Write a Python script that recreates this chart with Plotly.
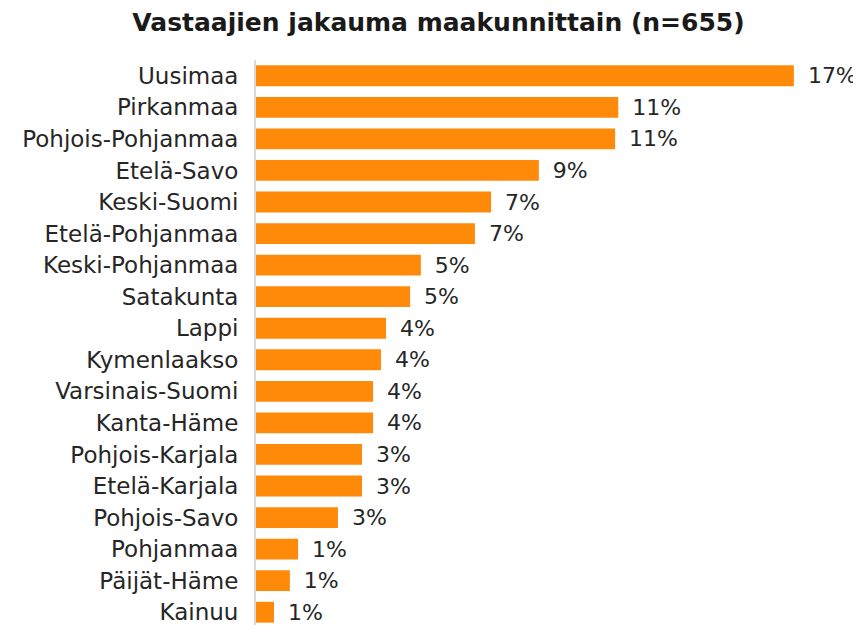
import plotly.graph_objects as go

regions = ["Uusimaa", "Pirkanmaa", "Pohjois-Pohjanmaa", "Etelä-Savo", "Keski-Suomi",
           "Etelä-Pohjanmaa", "Keski-Pohjanmaa", "Satakunta", "Lappi", "Kymenlaakso",
           "Varsinais-Suomi", "Kanta-Häme", "Pohjois-Karjala", "Etelä-Karjala",
           "Pohjois-Savo", "Pohjanmaa", "Päijät-Häme", "Kainuu"]
shares = [17.0, 11.45, 11.35, 8.94, 7.43, 6.92, 5.21, 4.87, 4.11, 3.95,
          3.70, 3.70, 3.35, 3.35, 2.59, 1.33, 1.07, 0.57]
title_text = "Vastaajien jakauma maakunnittain (n=655)"

FONT = "DejaVu Sans"

fig = go.Figure(go.Bar(
    x=shares,
    y=regions,
    orientation="h",
    marker=dict(color="#FF8A0A", line=dict(width=0)),
    text=shares,
    texttemplate="\u2002%{x:.0f}%",
    textposition="outside",
    constraintext="none",
    cliponaxis=False,
    textfont=dict(family=FONT, size=22, color="#262626"),
    width=0.66,
))

fig.update_layout(
    width=861, height=625,
    paper_bgcolor="white", plot_bgcolor="white",
    margin=dict(l=248, r=15, t=52, b=5, autoexpand=False),
    title=dict(text="<b>" + title_text + "</b>", x=0.5, xanchor="center",
               y=0.978, yanchor="middle",
               font=dict(family=FONT, size=25, color="#1a1a1a")),
    showlegend=False,
    font=dict(family=FONT),
)
fig.update_xaxes(range=[0, 18.9], showgrid=False, zeroline=False,
                 showticklabels=False, ticks="", automargin=False)
fig.update_yaxes(range=[17.5, -0.5], showline=True, linecolor="#d9d9d9",
                 linewidth=2, ticks="", ticklabelstandoff=11, automargin=False,
                 tickfont=dict(family=FONT, size=23, color="#262626"))

fig.write_html("out.html")
